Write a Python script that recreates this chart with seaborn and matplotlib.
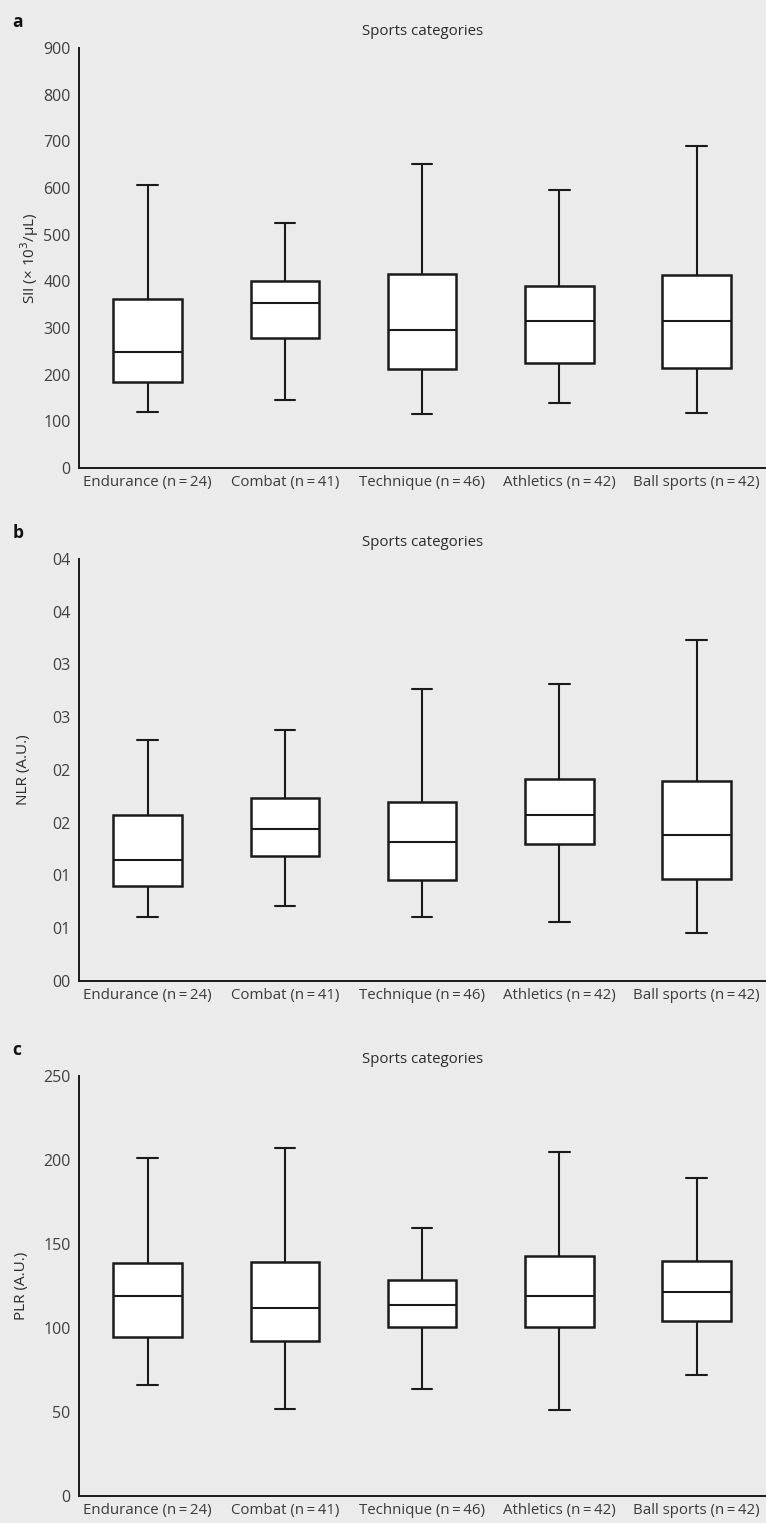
import pandas as pd
import matplotlib
matplotlib.use("Agg")
import matplotlib.pyplot as plt
import seaborn as sns

# Categories
categories = ["Endurance (n\u2009=\u200924)", "Combat (n\u2009=\u200941)", "Technique (n\u2009=\u200946)",
              "Athletics (n\u2009=\u200942)", "Ball sports (n\u2009=\u200942)"]

# Panel a: SII  (whisker low, Q1, median, Q3, whisker high)
sii_low = [120, 146, 116, 139, 117]
sii_q1 = [184, 279, 212, 226, 214]
sii_med = [249, 354, 296, 314, 314]
sii_q3 = [362, 401, 416, 391, 414]
sii_high = [607, 524, 652, 595, 691]

# Panel b: NLR
nlr_low = [0.61, 0.71, 0.61, 0.56, 0.45]
nlr_q1 = [0.90, 1.18, 0.96, 1.30, 0.97]
nlr_med = [1.15, 1.44, 1.32, 1.57, 1.38]
nlr_q3 = [1.57, 1.73, 1.70, 1.91, 1.90]
nlr_high = [2.28, 2.38, 2.77, 2.81, 3.23]

# Panel c: PLR
plr_low = [66, 52, 64, 51, 72]
plr_q1 = [94.6, 92.5, 100.4, 100.4, 104.4]
plr_med = [119, 112, 114, 119, 121.6]
plr_q3 = [138.7, 139, 128.6, 142.9, 139.9]
plr_high = [201, 207, 159.3, 204.8, 189.5]

sii_ticks = [0, 100, 200, 300, 400, 500, 600, 700, 800, 900]
nlr_ticks = [0, 0.5, 1.0, 1.5, 2.0, 2.5, 3.0, 3.5, 4.0]
nlr_ticklabels = ["00", "01", "01", "02", "02", "03", "03", "04", "04"]
plr_ticks = [0, 50, 100, 150, 200, 250]


def to_long(low, q1, med, q3, high):
    # five points per group -> quartiles and min/max reproduce the box stats
    rows = []
    for i, cat in enumerate(categories):
        for v in (low[i], q1[i], med[i], q3[i], high[i]):
            rows.append({"category": cat, "value": v})
    return pd.DataFrame(rows)


bg = "#ebebec"
sns.set_theme(style="white")
plt.rcParams["font.family"] = ["Open Sans", "DejaVu Sans"]
plt.rcParams["figure.facecolor"] = bg
plt.rcParams["axes.facecolor"] = bg

fig = plt.figure(figsize=(7.66, 15.23), dpi=100)

panels = [
    ("a", to_long(sii_low, sii_q1, sii_med, sii_q3, sii_high), "SII (\u00d7 10$^3$/\u00b5L)",
     sii_ticks, [str(t) for t in sii_ticks], (0, 900), [0.1031, 0.6927, 0.8959, 0.2758], -0.056),
    ("b", to_long(nlr_low, nlr_q1, nlr_med, nlr_q3, nlr_high), "NLR (A.U.)",
     nlr_ticks, nlr_ticklabels, (0, 4), [0.1031, 0.3559, 0.8959, 0.2771], -0.070),
    ("c", to_long(plr_low, plr_q1, plr_med, plr_q3, plr_high), "PLR (A.U.)",
     plr_ticks, [str(t) for t in plr_ticks], (0, 250), [0.1031, 0.0177, 0.8959, 0.2758], -0.073),
]

line_kw = dict(color="#1a1a1a", linewidth=1.5)

for letter, df, ylabel, ticks, ticklabels, ylim, rect, label_x in panels:
    ax = fig.add_axes(rect)
    sns.boxplot(data=df, x="category", y="value", order=categories, ax=ax,
                whis=(0, 100), width=0.5, fliersize=0,
                boxprops=dict(facecolor="white", edgecolor="#1a1a1a", linewidth=1.8),
                medianprops=line_kw, whiskerprops=line_kw, capprops=line_kw,
                capwidths=0.15)
    ax.set_xlim(-0.5, 4.5)
    ax.set_ylim(*ylim)
    ax.set_yticks(ticks)
    ax.set_yticklabels(ticklabels)
    ax.set_xlabel("")
    ax.set_ylabel(ylabel, fontsize=11, color="#2a2a2a")
    ax.yaxis.set_label_coords(label_x, 0.5)
    ax.tick_params(axis="y", length=0, labelsize=11.5, labelcolor="#3f3f3f", pad=6)
    ax.tick_params(axis="x", length=0, labelsize=10.8, labelcolor="#3a3a3a", pad=5)
    sns.despine(ax=ax)
    for side in ["left", "bottom"]:
        ax.spines[side].set_color("#1a1a1a")
        ax.spines[side].set_linewidth(1.4)
    ax.set_title("Sports categories", fontsize=10.8, color="#2a2a2a", pad=9)
    top = rect[1] + rect[3]
    fig.text(0.016, top + 0.014, letter, fontsize=12.5, fontweight="bold", color="#111111")

fig.savefig("out.png", dpi=100, facecolor=bg)
